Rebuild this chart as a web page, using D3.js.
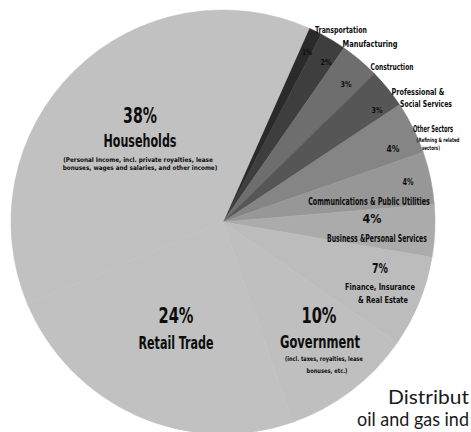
<!DOCTYPE html>
<html><head><meta charset="utf-8">
<script src="https://cdn.jsdelivr.net/npm/d3@7"></script>
<style>
html,body{margin:0;padding:0;background:#fff;overflow:hidden;}
svg{display:block;}
.lbl{font-family:"DejaVu Sans Condensed","Liberation Sans Narrow",sans-serif;font-stretch:condensed;font-weight:bold;fill:#0d0d0d;}
.cap{font-family:Lato,"Open Sans",sans-serif;fill:#1a1a1a;}
</style></head>
<body>
<script>
// ---- data ----
const categories = ["Transportation","Manufacturing","Construction","Professional & Social Services","Other Sectors","Communications & Public Utilities","Business & Personal Services","Finance, Insurance & Real Estate","Government","Retail Trade","Households"];
const values = [1,2,3,3,4,4,4,7,10,24,38];
const pctLabels = values.map(v => v + "%");
const nameLines = [
  ["Transportation"],
  ["Manufacturing"],
  ["Construction"],
  ["Professional &","Social Services"],
  ["Other Sectors"],
  ["Communications & Public Utilities"],
  ["Business &Personal Services"],
  ["Finance, Insurance","& Real Estate"],
  ["Government"],
  ["Retail Trade"],
  ["Households"]
];
const noteLines = [
  [],[],[],[],
  ["(Refining & related","sectors)"],
  [],[],[],
  ["(incl. taxes, royalties, lease","bonuses, etc.)"],
  [],
  ["(Personal Income, incl. private royalties, lease","bonuses, wages and salaries, and other income)"]
];
// caption as visible in the (cropped) reference
const captionLines = ["Distribut","oil and gas ind"];

// ---- style / layout ----
const W = 471, H = 432;
const cx = 223, cy = 222, R = 212;
const startDeg = 24;
const fills = ["#2a2a2a","#3e3e3e","#6e6e6e","#565656","#858585","#979797","#ababab","#bcbcbc","#bfbfbf","#c1c1c1","#c1c1c1"];
const layout = [
  {p:[307,55,8,10], n:[[341,33,9.5,52]]},
  {p:[326,65,8,11], n:[[370,47,9.5,55]]},
  {p:[346,87,8,11], n:[[392,70,9.5,43]]},
  {p:[377,113,8,11], n:[[418,95,9.5,53],[426,107,9.5,52]]},
  {p:[393,152,9,13], n:[[433,132,9.5,40]], s:[[438,142,6,43],[431,150,6,18]]},
  {p:[408,185,9,11], n:[[369,205,10.5,122]]},
  {p:[372,223,12,19], n:[[377,242,10.5,100]]},
  {p:[380,273,14,16], n:[[380,290,9,70],[383,303,9,50]]},
  {p:[319,323,22,35], n:[[320,348,18,80]], s:[[324,361,6.5,78],[327,373,6.5,41]]},
  {p:[176,323,22,35], n:[[176,349,18,75]]},
  {p:[140,123,22,34], n:[[140,147,18,73]], s:[[138,162,6.5,150],[140,170,6.5,155]]}
];
const captionLayout = [[388,404,20,81],[357,426,20,112]];

const svg = d3.select("body").append("svg").attr("width", W).attr("height", H);
svg.append("rect").attr("width", W).attr("height", H).attr("fill", "#fff");

const pie = d3.pie().sort(null).value(d => d)
  .startAngle(startDeg * Math.PI / 180)
  .endAngle((startDeg + 360) * Math.PI / 180);
const arcs = pie(values);
const arc = d3.arc().innerRadius(0).outerRadius(R);

const g = svg.append("g").attr("transform", `translate(${cx},${cy})`);
g.selectAll("path").data(arcs).join("path")
  .attr("d", arc)
  .attr("fill", (d, i) => fills[i])
  .attr("stroke", (d, i) => fills[i])
  .attr("stroke-width", 0.6);

const lab = svg.append("g");
function addText(t, spec, cls, weight, anchor) {
  const [x, y, size, w] = spec;
  const el = lab.append("text").attr("class", cls)
    .attr("x", 0).attr("y", 0)
    .attr("text-anchor", anchor || "middle")
    .attr("font-size", size)
    .text(t);
  if (weight) el.attr("font-weight", weight);
  const len = el.node().getComputedTextLength();
  const k = len > 0 ? w / len : 1;
  el.attr("transform", `translate(${x},${y}) scale(${k},1)`);
}
categories.forEach((c, i) => {
  const L = layout[i];
  addText(pctLabels[i], L.p, "lbl");
  nameLines[i].forEach((t, j) => addText(t, L.n[j], "lbl"));
  noteLines[i].forEach((t, j) => addText(t, L.s[j], "lbl", "normal"));
});
captionLines.forEach((t, j) => addText(t, captionLayout[j], "cap", null, "start"));
</script>
</body></html>
